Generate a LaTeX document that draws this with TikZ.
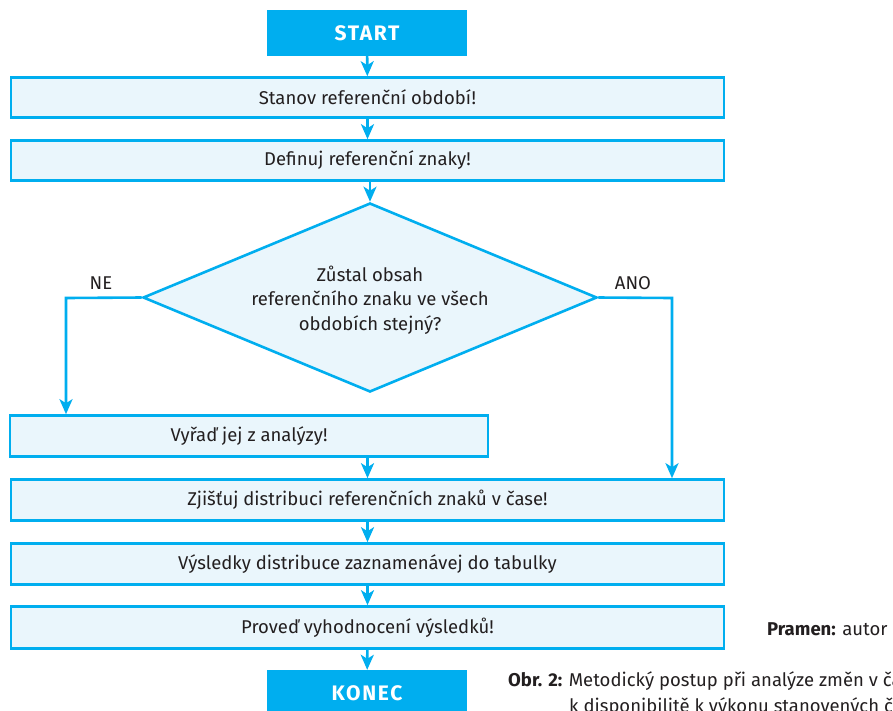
\documentclass[tikz,border=0pt]{standalone}
\usepackage{fontspec}
\setmainfont{Fira Sans}
\usetikzlibrary{shapes.geometric,arrows.meta}
\definecolor{cy}{HTML}{00AEEF}
\definecolor{lb}{HTML}{EAF6FC}
\definecolor{tx}{HTML}{231F20}
\newfontfamily\termfont[LetterSpace=8]{Fira Sans}
\begin{document}
\begin{tikzpicture}[x=1pt,y=-1pt,
  box/.style={draw=cy,fill=lb,line width=2.6pt,rectangle,minimum width=713pt,minimum height=40pt,inner sep=0pt,text=tx,font=\fontsize{18.5}{22}\selectfont},
  term/.style={fill=cy,rectangle,minimum width=200pt,minimum height=46pt,inner sep=0pt,text=white,font=\termfont\fontsize{21}{22}\selectfont\bfseries},
  arr/.style={draw=cy,line width=2.6pt,-{Stealth[length=15pt,width=13pt,inset=4pt]}},
  ln/.style={draw=cy,line width=2.6pt},
  lab/.style={text=tx,font=\fontsize{18.5}{22}\selectfont,inner sep=0pt}]
\useasboundingbox[fill=white] (0,0) rectangle (893,710);
\clip (0,0) rectangle (893,710);
\node[term] (start) at (367,33) {START};
\node[box] (b1) at (367.5,97.5) {Stanov referenční období!};
\node[box] (b2) at (367.5,160.5) {Definuj referenční znaky!};
\node[diamond,draw=cy,fill=lb,line width=2.6pt,minimum width=454pt,minimum height=189pt,inner sep=0pt] (dia) at (370,297.5) {};
\node[lab,align=center,font=\fontsize{18.5}{24.5}\selectfont] (diatext) at (370,300) {Zůstal obsah\\referenčního znaku ve všech\\obdobích stejný?};
\node[box,minimum width=478pt,minimum height=41pt] (b3) at (249,436) {Vyřaď jej z analýzy!};
\node[box,minimum height=41pt] (b4) at (367.5,500) {Zjišťuj distribuci referenčních znaků v čase!};
\node[box,minimum height=41pt] (b5) at (367.5,564) {Výsledky distribuce zaznamenávej do tabulky};
\node[box,minimum height=42pt] (b6) at (367.5,627.5) {Proveď vyhodnocení výsledků!};
\node[term] (konec) at (367,693) {KONEC};
\coordinate (ne) at (66,298);
\coordinate (ano) at (672,298);
\node[lab] (nelab) at (101,283) {NE};
\node[lab] (anolab) at (633,283) {ANO};
\draw[arr] (start) -- (b1);
\draw[arr] (b1) -- (b2);
\draw[arr] (b2.south -| dia.north) -- (dia.north);
\draw[arr] (dia.west) -- (ne) -- (ne |- b3.north);
\draw[arr] (dia.east) -- (ano) -- (ano |- b4.north);
\draw[arr] (b1.center |- b3.south) -- (b1.center |- b4.north);
\draw[arr] (b4) -- (b5);
\draw[arr] (b5) -- (b6);
\draw[arr] (b6) -- (konec);
\node[lab,anchor=base west] (pramen) at (767,635) {\textbf{Pramen:} autor};
\node[lab,anchor=base west] (obr1) at (508,686) {\textbf{Obr. 2:} Metodický postup při analýze změn v čase};
\node[lab,anchor=base west] (obr2) at (569,712) {k disponibilitě k výkonu stanovených činností};
\end{tikzpicture}
\end{document}
